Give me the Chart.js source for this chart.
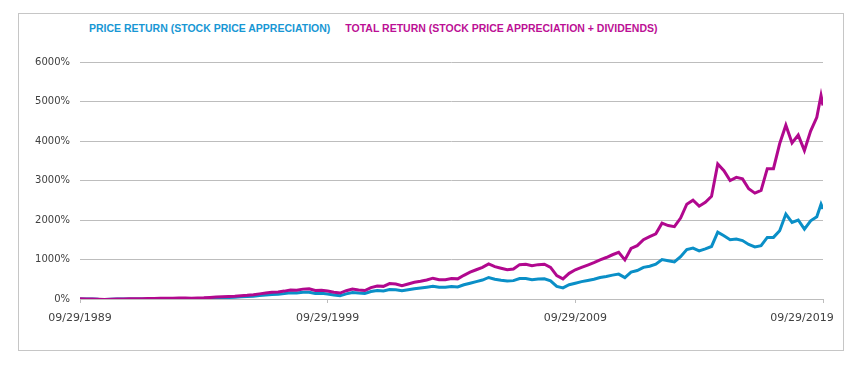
<!DOCTYPE html>
<html lang="en">
<head>
    <meta charset="UTF-8">
    <title>Price Return vs Total Return</title>
    <script src="https://cdn.jsdelivr.net/npm/chart.js"></script>
    <style>
        body { margin: 0; background: #fff; }
        #box { position: absolute; left: 18px; top: 13px; width: 824px; height: 336px; border: 1px solid #c6c6c6; }
        #legend { position: absolute; left: 89px; top: 21px; font: bold 10.5px "Liberation Sans", Arial, sans-serif; line-height: 14px; white-space: nowrap; }
        #legend span { margin-right: 15px; }
        #chartWrap { position: absolute; left: 19px; top: 14px; width: 824px; height: 336px; }
    </style>
</head>
<body>
    <div id="box"></div>
    <div id="legend">
        <span style="color: #1897d4">PRICE RETURN (STOCK PRICE APPRECIATION)</span><span style="color: #bc0f95">TOTAL RETURN (STOCK PRICE APPRECIATION + DIVIDENDS)</span>
    </div>
    <div id="chartWrap">
        <canvas id="myChart"></canvas>
    </div>
    <script>
    // quarterly readings from 09/1989 to mid 2019, plus two points at the end
    const dates = [];
    for (let i = 0; i < 120; i++) dates.push(1989.75 + i * 0.25);
    dates.push(2019.67, 2019.75);

    // cumulative return in %
    const priceReturn = [
        0, -3, 0, -8,
        -12, -8, -3, -2,
        0, 2, 0, 2,
        3, 8, 10, 8,
        12, 14, 8, 10,
        12, 20, 28, 35,
        40, 45, 55, 62,
        72, 88, 100, 115,
        122, 138, 160, 150,
        168, 172, 140, 145,
        128, 100, 85, 130,
        165, 150, 140, 190,
        215, 205, 240, 235,
        210, 235, 260, 280,
        300, 320, 295, 300,
        315, 305, 360, 400,
        440, 480, 545, 500,
        475, 455, 465, 520,
        520, 490, 505, 510,
        460, 320, 280, 360,
        400, 440, 470, 500,
        545, 570, 605, 630,
        540, 680, 720, 800,
        830, 880, 1000, 970,
        940, 1070, 1250, 1290,
        1220, 1270, 1330, 1690,
        1600, 1500, 1520, 1480,
        1380, 1320, 1350, 1560,
        1560, 1730, 2150, 1940,
        2000, 1770, 1980, 2080,
        2400, 2280
    ];

    const totalReturn = [
        5, 0, 3, -5,
        -10, -5, 0, 2,
        5, 8, 6, 10,
        12, 18, 22, 20,
        25, 28, 22, 25,
        30, 40, 50, 60,
        65, 72, 85, 95,
        110, 130, 150, 170,
        180, 200, 230, 220,
        250, 260, 215, 220,
        200, 170, 150, 210,
        250, 230, 215, 290,
        330, 320, 390, 380,
        336, 380, 425, 450,
        480, 527, 490, 490,
        520, 510, 600, 680,
        740, 800, 890, 820,
        780, 740, 760, 870,
        880, 840, 870, 880,
        800, 590, 510, 650,
        740, 800, 860, 920,
        990, 1050, 1120, 1180,
        990, 1280, 1350, 1500,
        1580, 1650, 1920, 1860,
        1830, 2050, 2400, 2500,
        2350, 2450, 2600, 3420,
        3250, 3000, 3080, 3040,
        2790, 2680, 2750, 3300,
        3300, 3930, 4400, 3950,
        4150, 3760, 4250, 4600,
        5150, 4900
    ];

    const xTickValues = [1989.75, 1999.75, 2009.75, 2019.75];
    const xTickLabels = ['09/29/1989', '09/29/1999', '09/29/2009', '09/29/2019'];

    const gridColor = '#bdbdbd';
    const labelColor = '#404040';

    const ctx = document.getElementById('myChart').getContext('2d');
    const myChart = new Chart(ctx, {
        type: 'line',
        data: {
            datasets: [
                {
                    label: 'Price Return',
                    data: dates.map((d, i) => ({ x: d, y: priceReturn[i] })),
                    borderColor: '#0a8fc7',
                    order: 1
                },
                {
                    label: 'Total Return',
                    data: dates.map((d, i) => ({ x: d, y: totalReturn[i] })),
                    borderColor: '#b1088e',
                    order: 0
                }
            ]
        },
        options: {
            responsive: true,
            maintainAspectRatio: false,
            animation: false,
            layout: { padding: { top: 48, right: 20, left: 0, bottom: 0 } },
            elements: {
                point: { radius: 0 },
                line: { borderWidth: 3, tension: 0, fill: false }
            },
            plugins: {
                legend: { display: false },
                tooltip: { enabled: false }
            },
            scales: {
                x: {
                    type: 'linear',
                    min: 1989.75,
                    max: 2019.75,
                    afterBuildTicks: scale => { scale.ticks = xTickValues.map(v => ({ value: v })); },
                    afterFit: scale => { scale.height = 51; scale.paddingLeft = 0; scale.paddingRight = 0; },
                    grid: { drawOnChartArea: false, drawTicks: true, tickLength: 4, color: gridColor },
                    border: { color: gridColor },
                    ticks: {
                        padding: 9,
                        maxRotation: 0,
                        autoSkip: false,
                        color: labelColor,
                        font: { family: 'DejaVu Sans', size: 11 },
                        // last label sits a bit left, inside the frame
                        callback: (v, i) => xTickLabels[i] + (i === xTickLabels.length - 1 ? ' '.repeat(12) : '')
                    }
                },
                y: {
                    min: 0,
                    max: 6000,
                    afterFit: scale => { scale.width = 61; },
                    grid: { color: gridColor, drawTicks: false },
                    border: { display: false },
                    ticks: {
                        stepSize: 1000,
                        padding: 10,
                        color: labelColor,
                        font: { family: 'DejaVu Sans', size: 10 },
                        callback: v => v + '%'
                    }
                }
            }
        }
    });
    </script>
</body>
</html>
